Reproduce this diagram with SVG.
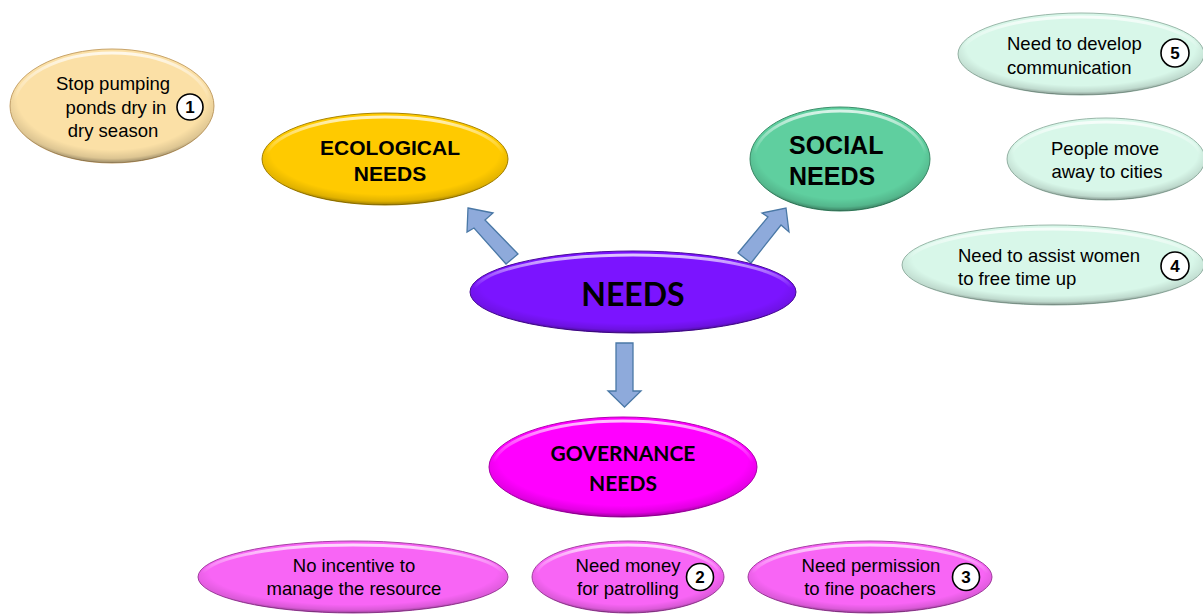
<svg xmlns="http://www.w3.org/2000/svg" width="1203" height="614" viewBox="0 0 1203 614">
<style>
.t{font-family:"Liberation Sans",Arial,sans-serif;font-size:18.5px;fill:#000}
.c{text-anchor:middle}
.b{font-family:"Liberation Sans",Arial,sans-serif;font-weight:bold;fill:#000}
.l{font-family:Lato,"Liberation Sans",sans-serif;font-weight:bold;fill:#000;text-anchor:middle}
.num{fill:#fff;stroke:#000;stroke-width:1.6}
.nt{font-family:"Liberation Sans",Arial,sans-serif;font-weight:bold;font-size:17px;text-anchor:middle;fill:#000}
.rim{fill:url(#rimG)}
.hl{fill:none;stroke:url(#hlG);stroke-width:3}
.arrow{fill:#8eaadb;stroke:#4a78a6;stroke-width:1.3;stroke-linejoin:miter}
</style>
<defs>
<radialGradient id="rimG" cx="0.5" cy="0.42" r="0.58">
<stop offset="0.8" stop-color="#000" stop-opacity="0"/>
<stop offset="0.93" stop-color="#000" stop-opacity="0.12"/>
<stop offset="1" stop-color="#000" stop-opacity="0.38"/>
</radialGradient>
<linearGradient id="hlG" x1="0" y1="0" x2="0" y2="1">
<stop offset="0" stop-color="#fff" stop-opacity="0.75"/>
<stop offset="0.45" stop-color="#fff" stop-opacity="0"/>
</linearGradient>
</defs>

<g id="connectors">
<polygon class="arrow" points="468,208 493,213 485,220 518,254 506,264 474,228 467,232"/>
<polygon class="arrow" points="786,208 789,232 781,225 751,263 738,253 768,217 762,213"/>
<polygon class="arrow" points="616,343 633,343 633,391 641,391 624.5,407 608,391 616,391"/>
</g>

<g id="node-stop-pumping">
<ellipse cx="112" cy="106" rx="102" ry="57" fill="#fbe0a6" stroke="#c8a46a" stroke-width="1"/>
<ellipse class="rim" cx="112" cy="106" rx="102" ry="57"/>
<ellipse class="hl" cx="112" cy="106" rx="98" ry="53"/>
<text class="t c" x="113" y="90">Stop pumping</text>
<text class="t c" x="116" y="113.5">ponds dry in</text>
<text class="t c" x="113" y="136.5">dry season</text>
<circle class="num" cx="190" cy="107" r="13"/>
<text class="nt" x="190" y="113">1</text>
</g>

<g id="node-ecological">
<ellipse cx="385" cy="159" rx="123" ry="46" fill="#ffca00" stroke="#a88400" stroke-width="1"/>
<ellipse class="rim" cx="385" cy="159" rx="123" ry="46"/>
<ellipse class="hl" cx="385" cy="159" rx="119" ry="42"/>
<text class="b" x="390" y="154.5" font-size="21" text-anchor="middle">ECOLOGICAL</text>
<text class="b" x="390" y="181" font-size="21" text-anchor="middle">NEEDS</text>
</g>

<g id="node-social">
<ellipse cx="840" cy="159" rx="90" ry="52" fill="#5fcf9f" stroke="#3c8e6a" stroke-width="1"/>
<ellipse class="rim" cx="840" cy="159" rx="90" ry="52"/>
<ellipse class="hl" cx="840" cy="159" rx="86" ry="48"/>
<text class="b" x="789" y="154" font-size="25">SOCIAL</text>
<text class="b" x="789" y="185" font-size="25">NEEDS</text>
</g>

<g id="node-develop-communication">
<ellipse cx="1081" cy="54" rx="123" ry="41" fill="#d8f7e9" stroke="#9ab8aa" stroke-width="1"/>
<ellipse class="rim" cx="1081" cy="54" rx="123" ry="41"/>
<ellipse class="hl" cx="1081" cy="54" rx="119" ry="37"/>
<text class="t" x="1007" y="49.5">Need to develop</text>
<text class="t" x="1007" y="73.5">communication</text>
<circle class="num" cx="1175" cy="53" r="14"/>
<text class="nt" x="1175" y="59">5</text>
</g>

<g id="node-people-move">
<ellipse cx="1106" cy="159" rx="99" ry="41" fill="#d8f7e9" stroke="#9ab8aa" stroke-width="1"/>
<ellipse class="rim" cx="1106" cy="159" rx="99" ry="41"/>
<ellipse class="hl" cx="1106" cy="159" rx="95" ry="37"/>
<text class="t c" x="1105" y="154.5">People move</text>
<text class="t c" x="1107" y="177.5">away to cities</text>
</g>

<g id="node-assist-women">
<ellipse cx="1053" cy="265" rx="151" ry="40" fill="#d8f7e9" stroke="#9ab8aa" stroke-width="1"/>
<ellipse class="rim" cx="1053" cy="265" rx="151" ry="40"/>
<ellipse class="hl" cx="1053" cy="265" rx="147" ry="36"/>
<text class="t" x="958" y="261.5">Need to assist women</text>
<text class="t" x="958" y="284.5">to free time up</text>
<circle class="num" cx="1175" cy="266" r="14"/>
<text class="nt" x="1175" y="272">4</text>
</g>

<g id="node-needs">
<ellipse cx="633" cy="292" rx="163" ry="41" fill="#7b14ff" stroke="#4a0a9a" stroke-width="1"/>
<ellipse class="rim" cx="633" cy="292" rx="163" ry="41"/>
<ellipse class="hl" cx="633" cy="292" rx="159" ry="37"/>
<text class="l" x="633" y="305.5" font-size="32">NEEDS</text>
</g>

<g id="node-governance">
<ellipse cx="623" cy="467" rx="134" ry="50" fill="#ff00ff" stroke="#b000b0" stroke-width="1"/>
<ellipse class="rim" cx="623" cy="467" rx="134" ry="50"/>
<ellipse class="hl" cx="623" cy="467" rx="130" ry="46"/>
<text class="l" x="623" y="460.5" font-size="21">GOVERNANCE</text>
<text class="l" x="623" y="490.5" font-size="21">NEEDS</text>
</g>

<g id="node-no-incentive">
<ellipse cx="353" cy="577" rx="155" ry="36" fill="#f865f5" stroke="#a640a4" stroke-width="1"/>
<ellipse class="rim" cx="353" cy="577" rx="155" ry="36"/>
<ellipse class="hl" cx="353" cy="577" rx="151" ry="32"/>
<text class="t c" x="354" y="571.5">No incentive to</text>
<text class="t c" x="354" y="595">manage the resource</text>
</g>

<g id="node-need-money">
<ellipse cx="628" cy="577" rx="96" ry="36" fill="#f865f5" stroke="#a640a4" stroke-width="1"/>
<ellipse class="rim" cx="628" cy="577" rx="96" ry="36"/>
<ellipse class="hl" cx="628" cy="577" rx="92" ry="32"/>
<text class="t c" x="628" y="571.5">Need money</text>
<text class="t c" x="628" y="595">for patrolling</text>
<circle class="num" cx="700" cy="577" r="13.5"/>
<text class="nt" x="700" y="583">2</text>
</g>

<g id="node-need-permission">
<ellipse cx="870" cy="577" rx="122" ry="36" fill="#f865f5" stroke="#a640a4" stroke-width="1"/>
<ellipse class="rim" cx="870" cy="577" rx="122" ry="36"/>
<ellipse class="hl" cx="870" cy="577" rx="118" ry="32"/>
<text class="t c" x="871" y="571.5">Need permission</text>
<text class="t c" x="870" y="595">to fine poachers</text>
<circle class="num" cx="966" cy="577" r="13.5"/>
<text class="nt" x="966" y="583">3</text>
</g>
</svg>
